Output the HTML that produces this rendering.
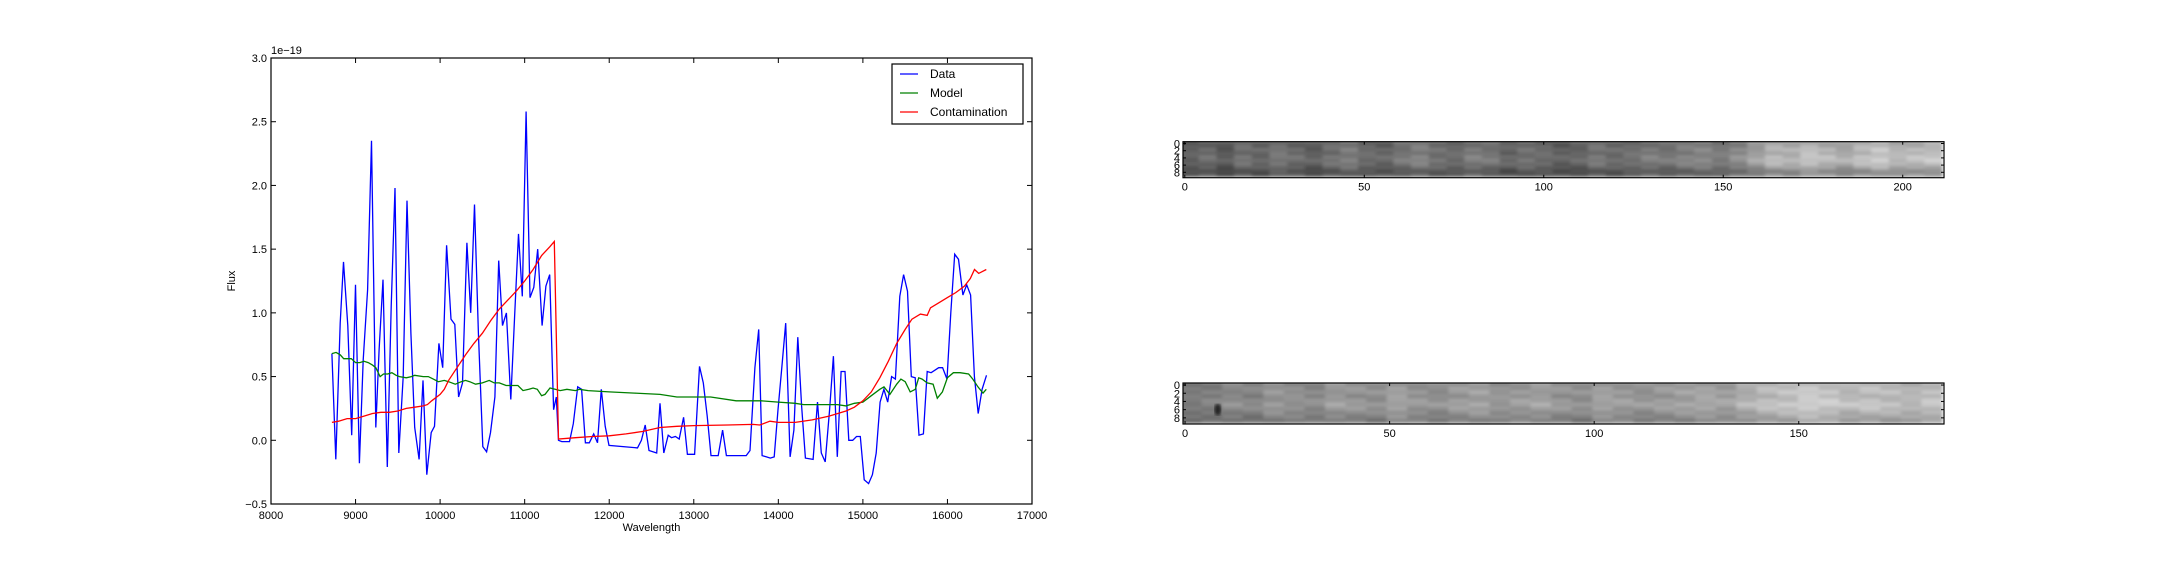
<!DOCTYPE html>
<html><head><meta charset="utf-8">
<style>
html,body{margin:0;padding:0;background:#fff;}
svg{display:block;font-family:"Liberation Sans","DejaVu Sans",sans-serif;}
</style></head>
<body>
<svg id="fig" width="2160" height="576" viewBox="0 0 2160 576" xmlns="http://www.w3.org/2000/svg">
<defs>
<filter id="soft" x="0" y="0" width="1" height="1"><feGaussianBlur stdDeviation="1.6"/></filter>
<clipPath id="clip1"><rect x="1183" y="141.7" width="761" height="36"/></clipPath>
<clipPath id="clip2"><rect x="1183" y="383" width="761" height="41"/></clipPath>
</defs>
<rect width="2160" height="576" fill="#fff"/>
<g id="spec"></g>
<g id="img1"></g>
<g id="img2"></g>
</svg>
<script>
const dataWl=[8720,8766,8818,8857,8908,8954,8999,9045,9090,9142,9188,9233,9240,9278,9324,9376,9421,9467,9512,9564,9609,9655,9700,9752,9798,9843,9895,9934,9986,10031,10077,10129,10174,10219,10265,10317,10362,10407,10453,10505,10550,10596,10648,10693,10738,10784,10836,10881,10927,10972,11017,11063,11108,11154,11206,11251,11296,11342,11374,11400,11439,11530,11575,11627,11673,11718,11764,11816,11861,11906,11952,11997,12335,12380,12426,12471,12562,12601,12646,12698,12737,12783,12828,12880,12925,13010,13068,13113,13159,13204,13289,13341,13386,13620,13665,13723,13768,13808,13860,13905,13951,13996,14041,14087,14139,14184,14230,14275,14320,14411,14463,14508,14554,14606,14651,14697,14742,14788,14833,14879,14924,14969,15015,15067,15112,15157,15203,15248,15294,15339,15385,15437,15482,15528,15573,15619,15664,15716,15761,15807,15852,15897,15943,15995,16040,16086,16131,16183,16228,16274,16319,16364,16410,16462];
const dataFlux=[0.68,-0.15,0.92,1.40,0.90,0.04,1.22,-0.18,0.63,1.18,2.35,0.42,0.10,0.71,1.26,-0.21,1.05,1.98,-0.10,0.50,1.88,0.84,0.10,-0.15,0.47,-0.27,0.06,0.11,0.76,0.57,1.53,0.95,0.91,0.34,0.45,1.55,1.00,1.85,0.84,-0.05,-0.09,0.06,0.34,1.41,0.90,1.00,0.32,0.97,1.62,1.13,2.58,1.12,1.20,1.50,0.90,1.21,1.30,0.24,0.34,0.0,-0.01,-0.01,0.13,0.42,0.40,-0.02,-0.02,0.05,-0.02,0.40,0.11,-0.04,-0.06,0.0,0.12,-0.08,-0.10,0.29,-0.10,0.04,0.02,0.03,0.01,0.18,-0.11,-0.11,0.58,0.45,0.19,-0.12,-0.12,0.08,-0.12,-0.12,-0.08,0.57,0.87,-0.12,-0.13,-0.14,-0.13,0.24,0.57,0.92,-0.13,0.08,0.81,0.27,-0.14,-0.15,0.30,-0.10,-0.17,0.24,0.66,-0.13,0.54,0.54,0.0,0.0,0.03,0.03,-0.31,-0.34,-0.27,-0.10,0.30,0.40,0.30,0.50,0.48,1.13,1.30,1.17,0.50,0.49,0.04,0.05,0.54,0.53,0.55,0.57,0.57,0.48,1.00,1.46,1.42,1.14,1.22,1.14,0.50,0.21,0.40,0.51];
const modelWl=[8720,8770,8820,8860,8950,9000,9050,9100,9150,9200,9240,9290,9330,9380,9430,9480,9520,9600,9660,9700,9800,9860,9920,9980,10050,10100,10180,10250,10300,10350,10420,10500,10580,10640,10700,10780,10850,10920,10980,11050,11100,11150,11200,11240,11300,11360,11420,11500,11600,11650,11750,12000,12300,12600,12800,13000,13200,13500,13800,14000,14200,14300,14600,14700,14800,14900,15000,15100,15200,15250,15320,15400,15450,15500,15560,15620,15660,15700,15760,15830,15880,15940,16000,16070,16150,16250,16300,16360,16420,16460];
const modelFlux=[0.68,0.69,0.67,0.64,0.64,0.61,0.61,0.62,0.61,0.59,0.57,0.50,0.52,0.52,0.53,0.51,0.50,0.49,0.50,0.51,0.50,0.50,0.48,0.46,0.47,0.46,0.44,0.46,0.47,0.46,0.44,0.45,0.47,0.45,0.45,0.43,0.43,0.43,0.39,0.40,0.41,0.40,0.35,0.36,0.41,0.40,0.39,0.40,0.39,0.40,0.39,0.38,0.37,0.36,0.34,0.34,0.34,0.31,0.31,0.30,0.29,0.28,0.28,0.28,0.27,0.29,0.30,0.35,0.40,0.42,0.36,0.44,0.48,0.46,0.38,0.40,0.49,0.48,0.45,0.44,0.33,0.38,0.49,0.53,0.53,0.52,0.48,0.42,0.37,0.40];
const contWl=[8720,8800,8900,9000,9100,9200,9300,9400,9500,9600,9700,9800,9850,9900,10000,10050,10100,10200,10300,10400,10500,10600,10700,10800,10900,11000,11100,11200,11300,11350,11400,11600,11800,12000,12200,12400,12600,12800,13000,13400,13700,13780,13900,14000,14200,14400,14600,14800,14900,15000,15100,15200,15300,15400,15500,15580,15680,15760,15800,15900,16000,16100,16200,16270,16320,16370,16460];
const contFlux=[0.14,0.15,0.17,0.17,0.19,0.21,0.22,0.22,0.23,0.25,0.26,0.27,0.28,0.31,0.36,0.40,0.47,0.57,0.67,0.76,0.84,0.94,1.03,1.10,1.17,1.25,1.34,1.45,1.52,1.56,0.01,0.02,0.03,0.035,0.05,0.07,0.10,0.11,0.115,0.12,0.125,0.12,0.15,0.14,0.14,0.16,0.19,0.23,0.26,0.31,0.38,0.49,0.62,0.76,0.87,0.95,0.99,0.98,1.04,1.08,1.12,1.16,1.21,1.27,1.34,1.31,1.34];
const xTicks=[8000,9000,10000,11000,12000,13000,14000,15000,16000,17000];
const yTicks=[-0.5,0.0,0.5,1.0,1.5,2.0,2.5,3.0];
const yTickLabels=["\u22120.5","0.0","0.5","1.0","1.5","2.0","2.5","3.0"];
const legendLabels=["Data","Model","Contamination"];
// image column brightness profiles (gray 0-255), sampled every ~5 columns
const img1Cols=[90,100,85,105,95,110,100,90,105,115,100,95,110,120,105,100,115,110,95,105,100,90,95,110,100,105,115,110,120,125,115,130,150,170,165,180,170,160,175,185,170,175,180];
const img1Rows=[0.95,1.0,1.08,1.02,1.1,1.12,1.05,0.95,0.78,0.85];
const img2Cols=[115,120,130,125,140,135,130,145,140,135,150,140,135,145,150,140,145,150,140,135,150,145,140,145,150,155,150,165,175,180,190,185,175,180,175,170,180];
const img2Rows=[1.0,1.05,1.08,1.02,1.08,1.12,1.06,1.0,0.95,0.88];
const img1Ticks=[0,50,100,150,200];
const img2Ticks=[0,50,100,150];
const imgYTicks=[0,2,4,6,8];

const NS="http://www.w3.org/2000/svg";
function mk(tag,attrs,parent){const e=document.createElementNS(NS,tag);for(const k in attrs)e.setAttribute(k,attrs[k]);parent.appendChild(e);return e;}
const L=271,R=1032,T=58,B=504;
const xs=v=>L+(v-8000)/9000*(R-L);
const ys=v=>B-(v+0.5)/3.5*(B-T);
const g=document.getElementById('spec');
function series(wl,fl,color,name){
  let d=wl.map((w,i)=>(i?'L':'M')+xs(w).toFixed(1)+' '+ys(fl[i]).toFixed(1)).join(' ');
  const p=mk('path',{d:d,fill:'none',stroke:color,'stroke-width':1.3},g);
  
  
}
series(dataWl,dataFlux,'#0000ff','data-line');
series(modelWl,modelFlux,'#008000','model-line');
series(contWl,contFlux,'#ff0000','contamination-line');
const frame=mk('rect',{x:L,y:T,width:R-L,height:B-T,fill:'none',stroke:'#000','stroke-width':1.2},g);


xTicks.forEach(v=>{
  const x=xs(v);
  mk('line',{x1:x,x2:x,y1:B,y2:B-5,stroke:'#000'},g);
  mk('line',{x1:x,x2:x,y1:T,y2:T+5,stroke:'#000'},g);
  const t=mk('text',{x:x,y:B+15,'font-size':11,'text-anchor':'middle'},g);
  t.textContent=v;
  
  
});
yTicks.forEach((v,i)=>{
  const y=ys(v);
  mk('line',{x1:L,x2:L+5,y1:y,y2:y,stroke:'#000'},g);
  mk('line',{x1:R,x2:R-5,y1:y,y2:y,stroke:'#000'},g);
  const t=mk('text',{x:L-4,y:y+4,'font-size':11,'text-anchor':'end'},g);
  t.textContent=yTickLabels[i];
  
  
});
let t=mk('text',{x:L,y:T-4,'font-size':11},g);t.textContent='1e\u221219';


t=mk('text',{x:(L+R)/2,y:531,'font-size':11,'text-anchor':'middle'},g);t.textContent='Wavelength';


t=mk('text',{x:0,y:0,'font-size':11,'text-anchor':'middle',transform:'translate(235,281) rotate(-90)'},g);t.textContent='Flux';


const lg=mk('g',{},g);


mk('rect',{x:892,y:64,width:131,height:60,fill:'#fff',stroke:'#000','stroke-width':1.2},lg);
const lc=['#0000ff','#008000','#ff0000'];
legendLabels.forEach((s,i)=>{
  const y=74+i*19;
  mk('line',{x1:900,x2:918,y1:y,y2:y,stroke:lc[i],'stroke-width':1.3},lg);
  const tt=mk('text',{x:930,y:y+4,'font-size':12},lg);tt.textContent=s;
  
  
});

function drawImg(id,clip,cols,rows,ncol,top,bottom,ticks){
  const gi=document.getElementById(id);
  const il=1183,ir=1944;
  const cw=(ir-il)/ncol,rh=(bottom-top)/10;
  const step=ncol/cols.length;
  const cg=mk('g',{'clip-path':'url(#'+clip+')'},gi);
  const bg=mk('g',{filter:'url(#soft)'},cg);
  for(let c=0;c<cols.length;c++){
    for(let r=0;r<10;r++){
      const jitter=((c*7+r*3)%5-2)*6;
      let v=Math.max(0,Math.min(255,Math.round(cols[c]*rows[r]+jitter)));
      const cell=mk('rect',{x:(il+c*step*cw-2).toFixed(1),y:(top+r*rh-1).toFixed(1),width:(step*cw+0.6).toFixed(1),height:(rh+0.3).toFixed(1),fill:`rgb(${v},${v},${v})`},bg);
      if(c===0) cell.setAttribute('x',il-4), cell.setAttribute('width',(step*cw+2.6).toFixed(1));
      
      
    }
  }
  mk('rect',{x:il,y:top,width:ir-il,height:bottom-top,fill:'none',stroke:'#000','stroke-width':1.2},gi);
  ticks.forEach(v=>{
    const x=il+(v+0.5)*cw;
    mk('line',{x1:x,x2:x,y1:bottom,y2:bottom-3,stroke:'#000'},gi);
    mk('line',{x1:x,x2:x,y1:top,y2:top+3,stroke:'#000'},gi);
    const tl=mk('text',{x:x,y:bottom+13,'font-size':11,'text-anchor':'middle'},gi);tl.textContent=v;
    
    
  });
  imgYTicks.forEach(v=>{
    const y=top+(v+0.5)*rh;
    mk('line',{x1:il,x2:il+3,y1:y,y2:y,stroke:'#000'},gi);
    mk('line',{x1:ir,x2:ir-3,y1:y,y2:y,stroke:'#000'},gi);
    const tl=mk('text',{x:il-3,y:y+4,'font-size':11,'text-anchor':'end'},gi);tl.textContent=v;
    
    
  });
}
drawImg('img1','clip1',img1Cols,img1Rows,212,141.7,177.7,img1Ticks);
drawImg('img2','clip2',img2Cols,img2Rows,186,383,424,img2Ticks);
// dark spot in bottom image
const spot=mk('ellipse',{cx:1183+8.5*4.09,cy:383+6.5*4.1,rx:3.5,ry:6,fill:'#222',filter:'url(#soft)'},document.getElementById('img2'));


</script>
</body></html>
